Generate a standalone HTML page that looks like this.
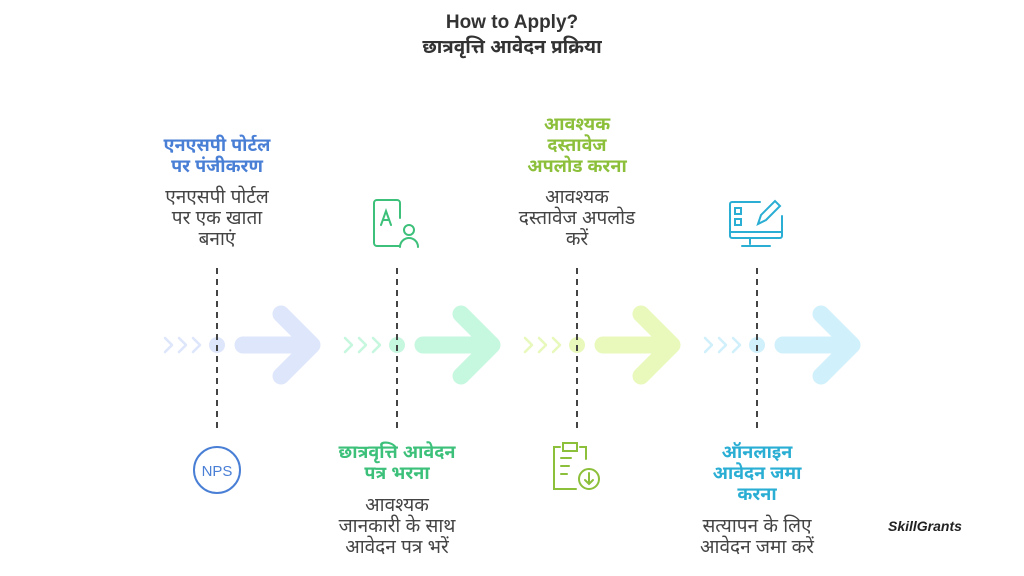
<!DOCTYPE html><html><head><meta charset="utf-8"><style>
body{margin:0;width:1024px;height:576px;background:#fff;position:relative;font-family:"Liberation Sans","Noto Sans Devanagari","Lohit Devanagari",sans-serif;overflow:hidden}
.t{position:absolute;width:200px;text-align:center;font-weight:bold;font-size:18px;line-height:21px}
.d{position:absolute;width:200px;text-align:center;font-size:19px;line-height:21px;color:#444}
</style></head><body>
<div style="position:absolute;left:0;width:1024px;top:10px;text-align:center;font-weight:bold;font-size:19px;line-height:25px;color:#333">How to Apply?<br>छात्रवृत्ति आवेदन प्रक्रिया</div>
<svg width="1024" height="576" style="position:absolute;left:0;top:0">
<g stroke-linecap="round" stroke-linejoin="round" fill="none">
<g stroke="#dde6fb"><path d="M165 338l7 7-7 7M179 338l7 7-7 7M193 338l7 7-7 7" stroke-width="2.5"/><path d="M243 345H308M281 314l31 31-31 31" stroke-width="17"/></g>
<g stroke="#c6f7df"><path d="M345 338l7 7-7 7M359 338l7 7-7 7M373 338l7 7-7 7" stroke-width="2.5"/><path d="M423 345H488M461 314l31 31-31 31" stroke-width="17"/></g>
<g stroke="#e8f9bb"><path d="M525 338l7 7-7 7M539 338l7 7-7 7M553 338l7 7-7 7" stroke-width="2.5"/><path d="M603 345H668M641 314l31 31-31 31" stroke-width="17"/></g>
<g stroke="#d0f0fb"><path d="M705 338l7 7-7 7M719 338l7 7-7 7M733 338l7 7-7 7" stroke-width="2.5"/><path d="M783 345H848M821 314l31 31-31 31" stroke-width="17"/></g>
</g>
<circle cx="217" cy="345" r="8" fill="#dde6fb"/><circle cx="397" cy="345" r="8" fill="#c6f7df"/><circle cx="577" cy="345" r="8" fill="#e8f9bb"/><circle cx="757" cy="345" r="8" fill="#d0f0fb"/>
<g stroke="#444" stroke-width="2" stroke-dasharray="6 5"><path d="M217 268V432M397 268V432M577 268V432M757 268V432"/></g>
<g fill="none" stroke="#4a7fd6" stroke-width="2"><circle cx="217" cy="470" r="23"/></g>
<text x="217" y="476" text-anchor="middle" font-family="Liberation Sans" font-size="15" fill="#4a7fd6">NPS</text>
<g fill="none" stroke="#3cc07a" stroke-width="2" stroke-linecap="round"><path d="M387 200h-10a3 3 0 0 0-3 3v40a3 3 0 0 0 3 3h23M377 200h20a3 3 0 0 1 3 3v15"/><path d="M381 225l5-14 5 14M383 220h6"/><circle cx="409" cy="230" r="5"/><path d="M400 247a9 9 0 0 1 18 0"/></g>
<g fill="none" stroke="#8cbf3a" stroke-width="2" stroke-linecap="round"><path d="M560 447h-6v42h22M580 447h6v12M563 443h14v8h-14zM561 458h10M561 466h8M561 474h6"/><circle cx="589" cy="479" r="10"/><path d="M589 473v11M585 480l4 4 4-4"/></g>
<g fill="none" stroke="#2aaed3" stroke-width="2" stroke-linecap="round"><path d="M760 202h-28a2 2 0 0 0-2 2v32a2 2 0 0 0 2 2h48a2 2 0 0 0 2-2v-20M730 232h52M750 238v6M742 246h28"/><rect x="735" y="208" width="6" height="6"/><rect x="735" y="219" width="6" height="6"/><path d="M758 224l3-9 14-14 5 5-14 14z"/></g>
</svg>
<div class="t" style="left:117px;top:135px;color:#4a7fd6">एनएसपी पोर्टल<br>पर पंजीकरण</div>
<div class="d" style="left:117px;top:187px">एनएसपी पोर्टल<br>पर एक खाता<br>बनाएं</div>
<div class="t" style="left:297px;top:442px;color:#3cc07a">छात्रवृत्ति आवेदन<br>पत्र भरना</div>
<div class="d" style="left:297px;top:495px">आवश्यक<br>जानकारी के साथ<br>आवेदन पत्र भरें</div>
<div class="t" style="left:477px;top:114px;color:#8cbf3a">आवश्यक<br>दस्तावेज<br>अपलोड करना</div>
<div class="d" style="left:477px;top:187px">आवश्यक<br>दस्तावेज अपलोड<br>करें</div>
<div class="t" style="left:657px;top:442px;color:#2aaed3">ऑनलाइन<br>आवेदन जमा<br>करना</div>
<div class="d" style="left:657px;top:516px">सत्यापन के लिए<br>आवेदन जमा करें</div>
<div style="position:absolute;left:888px;top:518px;font-weight:bold;font-style:italic;font-size:14px;color:#222">SkillGrants</div>
</body></html>
